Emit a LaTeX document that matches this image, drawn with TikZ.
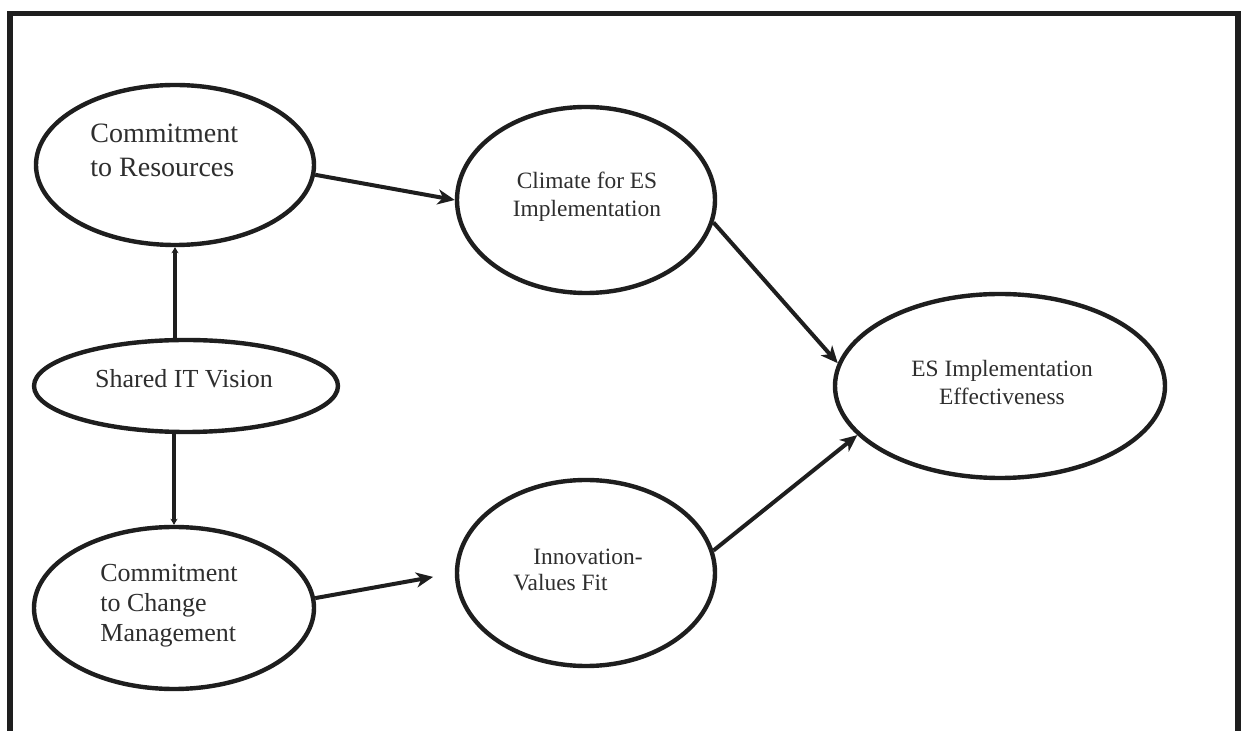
\documentclass[tikz,border=0pt]{standalone}
\usepackage{fontspec}
\setmainfont{Liberation Serif}
\usetikzlibrary{shapes.geometric,arrows.meta}
\definecolor{ink}{HTML}{1E1E1E}
\definecolor{txt}{HTML}{2E2E2E}
\begin{document}
\begin{tikzpicture}[x=0.5pt,y=-0.5pt,
  construct/.style={ellipse,draw=ink,line width=2.2pt,inner sep=0pt},
  lbl/.style={text=txt,inner sep=0pt},
  link/.style={draw=ink,line width=2pt,-{Stealth[length=8.5pt,width=7.5pt,inset=2.5pt]}},
  uplink/.style={draw=ink,line width=2pt,-{Stealth[length=3pt,width=3.5pt]}},
  big/.style={font=\fontsize{14}{17}\selectfont},
  mid/.style={font=\fontsize{13}{15}\selectfont},
  small/.style={font=\fontsize{11.7}{14}\selectfont}]
\useasboundingbox (0,0) rectangle (1243,731);
\fill[white] (0,0) rectangle (1243,731);

% open frame around the model
\draw[ink,line width=2.6pt] (10,731) -- (10,13.5) -- (1238,13.5) -- (1238,731);

% constructs
\node[construct,minimum width=139pt,minimum height=80pt] (res) at (175,165) {};
\node[construct,minimum width=152pt,minimum height=46pt] (shared) at (186,386) {};
\node[construct,minimum width=140pt,minimum height=81pt] (chg) at (174,608) {};
\node[construct,minimum width=129pt,minimum height=93pt] (clim) at (586,200) {};
\node[construct,minimum width=129pt,minimum height=93pt] (innov) at (586,573) {};
\node[construct,minimum width=165pt,minimum height=92pt] (eff) at (1000,386) {};

% labels
\node[lbl,big,align=left,anchor=west] (resT) at (90,150) {Commitment\\to Resources};
\node[lbl,mid] (sharedT) at (184,379) {Shared IT Vision};
\node[lbl,mid,align=left,anchor=west] (chgT) at (100,606) {Commitment\\to Change\\Management};
\node[lbl,small,align=center] (climT) at (587,197) {Climate for ES\\Implementation};
\node[lbl,small,anchor=west] (innovA) at (533,557) {Innovation-};
\node[lbl,small,anchor=west] (innovB) at (513,583) {Values Fit};
\node[lbl,small,align=center] (effT) at (1002,383) {ES Implementation\\Effectiveness};

% paths
\draw[uplink] (res.south |- shared.north) -- (res.south);
\draw[uplink] (chg.north |- shared.south) -- (chg.north);
\draw[link] (res.-4) -- (clim.west);
\draw[link,shorten >=11pt] (chg.4) -- (innov.west);
\draw[link] (clim.-10) -- (eff.172);
\draw[link] (innov.10) -- (eff.-161);
\end{tikzpicture}
\end{document}
